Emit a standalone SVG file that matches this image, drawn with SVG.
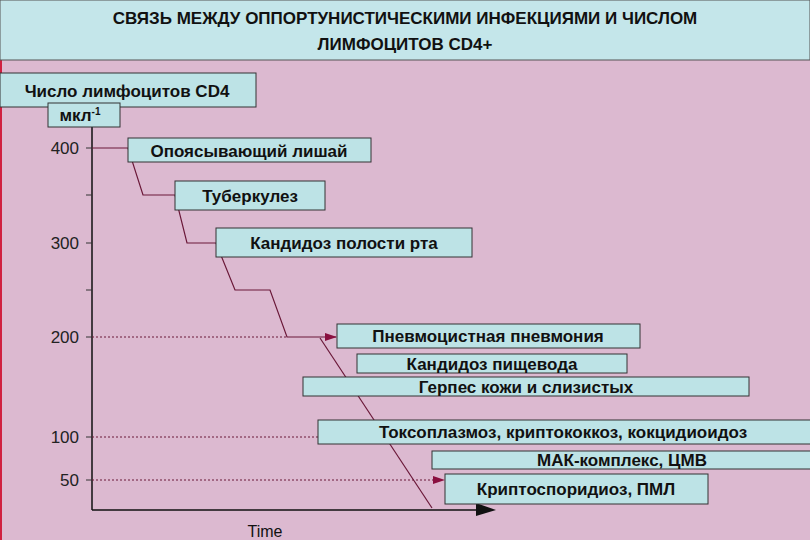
<svg xmlns="http://www.w3.org/2000/svg" width="810" height="540" viewBox="0 0 810 540">
<style>
.b{fill:#bde3e6;stroke:#333;stroke-width:1}
.t{font-family:"Liberation Sans",Arial,sans-serif;font-weight:bold;font-size:17px;fill:#111;text-anchor:middle}
.n{font-family:"Liberation Sans",Arial,sans-serif;font-size:17px;fill:#222;text-anchor:end}
.c{fill:none;stroke:#6a1838;stroke-width:1.2}
.d{stroke:#6a1838;stroke-width:1;stroke-dasharray:2 2}
</style>
<defs><marker id="a" markerWidth="12" markerHeight="8" refX="11" refY="4" orient="auto" markerUnits="userSpaceOnUse"><path d="M0,0L12,4L0,8z" fill="#8a1040"/></marker></defs>
<rect width="810" height="540" fill="#dcb9d0"/>
<line x1="1" y1="60" x2="1" y2="540" stroke="#d02040" stroke-width="2"/>
<g id="title"><rect x="0" y="0" width="810" height="60" fill="#c4e6ea" stroke="#555"/>
<text class="t" x="405" y="24" font-size="18">СВЯЗЬ МЕЖДУ ОППОРТУНИСТИЧЕСКИМИ ИНФЕКЦИЯМИ И ЧИСЛОМ</text>
<text class="t" x="405" y="50" font-size="18">ЛИМФОЦИТОВ CD4+</text></g>
<g id="axis">
<line x1="92" y1="118" x2="92" y2="510" stroke="#111" stroke-width="1.5"/>
<line x1="92" y1="510" x2="480" y2="510" stroke="#111" stroke-width="1.5"/>
<path d="M476,503L496,510L476,516z" fill="#111"/>
<g stroke="#333"><line x1="86" y1="148" x2="92" y2="148"/><line x1="86" y1="195" x2="92" y2="195"/><line x1="86" y1="243" x2="92" y2="243"/><line x1="86" y1="290" x2="92" y2="290"/><line x1="86" y1="337" x2="92" y2="337"/><line x1="86" y1="437" x2="92" y2="437"/><line x1="86" y1="480" x2="92" y2="480"/></g>
<text class="n" x="79" y="154">400</text><text class="n" x="79" y="249">300</text><text class="n" x="79" y="343">200</text><text class="n" x="79" y="443">100</text><text class="n" x="79" y="486">50</text>
<text x="265" y="537" font-family="Liberation Sans,Arial,sans-serif" font-size="16" fill="#111" text-anchor="middle">Time</text>
</g>
<g id="ylabel"><rect class="b" x="0" y="73" width="256" height="34"/><text class="t" x="127" y="97">Число лимфоцитов CD4</text>
<rect class="b" x="48" y="103" width="72" height="24"/><text class="t" x="80" y="121" font-size="14">мкл<tspan dy="-6" font-size="10">-1</tspan></text></g>
<g id="connectors">
<path class="c" d="M92,148H128L143,195H175L187,243H216L235,290H270L287,337H336" marker-end="url(#a)"/>
<line class="c" x1="320" y1="338" x2="432" y2="508"/>
<line class="d" x1="92" y1="337" x2="287" y2="337"/>
<line class="d" x1="92" y1="437" x2="318" y2="437"/>
<line class="d" x1="92" y1="480" x2="444" y2="480" marker-end="url(#a)"/>
</g>
<g id="n1"><rect class="b" x="128" y="138" width="243" height="24"/><text class="t" x="249" y="157">Опоясывающий лишай</text></g>
<g id="n2"><rect class="b" x="175" y="181" width="150" height="29"/><text class="t" x="250" y="202">Туберкулез</text></g>
<g id="n3"><rect class="b" x="216" y="228" width="256" height="29"/><text class="t" x="344" y="249">Кандидоз полости рта</text></g>
<g id="n4"><rect class="b" x="337" y="324" width="303" height="24"/><text class="t" x="488" y="342">Пневмоцистная пневмония</text></g>
<g id="n5"><rect class="b" x="357" y="354" width="270" height="19"/><text class="t" x="492" y="370">Кандидоз пищевода</text></g>
<g id="n6"><rect class="b" x="303" y="377" width="446" height="19"/><text class="t" x="526" y="393">Герпес кожи и слизистых</text></g>
<g id="n7"><rect class="b" x="318" y="420" width="500" height="24"/><text class="t" x="563" y="438" font-size="15">Токсоплазмоз, криптококкоз, кокцидиоидоз</text></g>
<g id="n8"><rect class="b" x="432" y="451" width="390" height="18"/><text class="t" x="622" y="466" font-size="15">МАК-комплекс, ЦМВ</text></g>
<g id="n9"><rect class="b" x="445" y="474" width="263" height="30"/><text class="t" x="576" y="495" font-size="15">Криптоспоридиоз, ПМЛ</text></g>
</svg>
